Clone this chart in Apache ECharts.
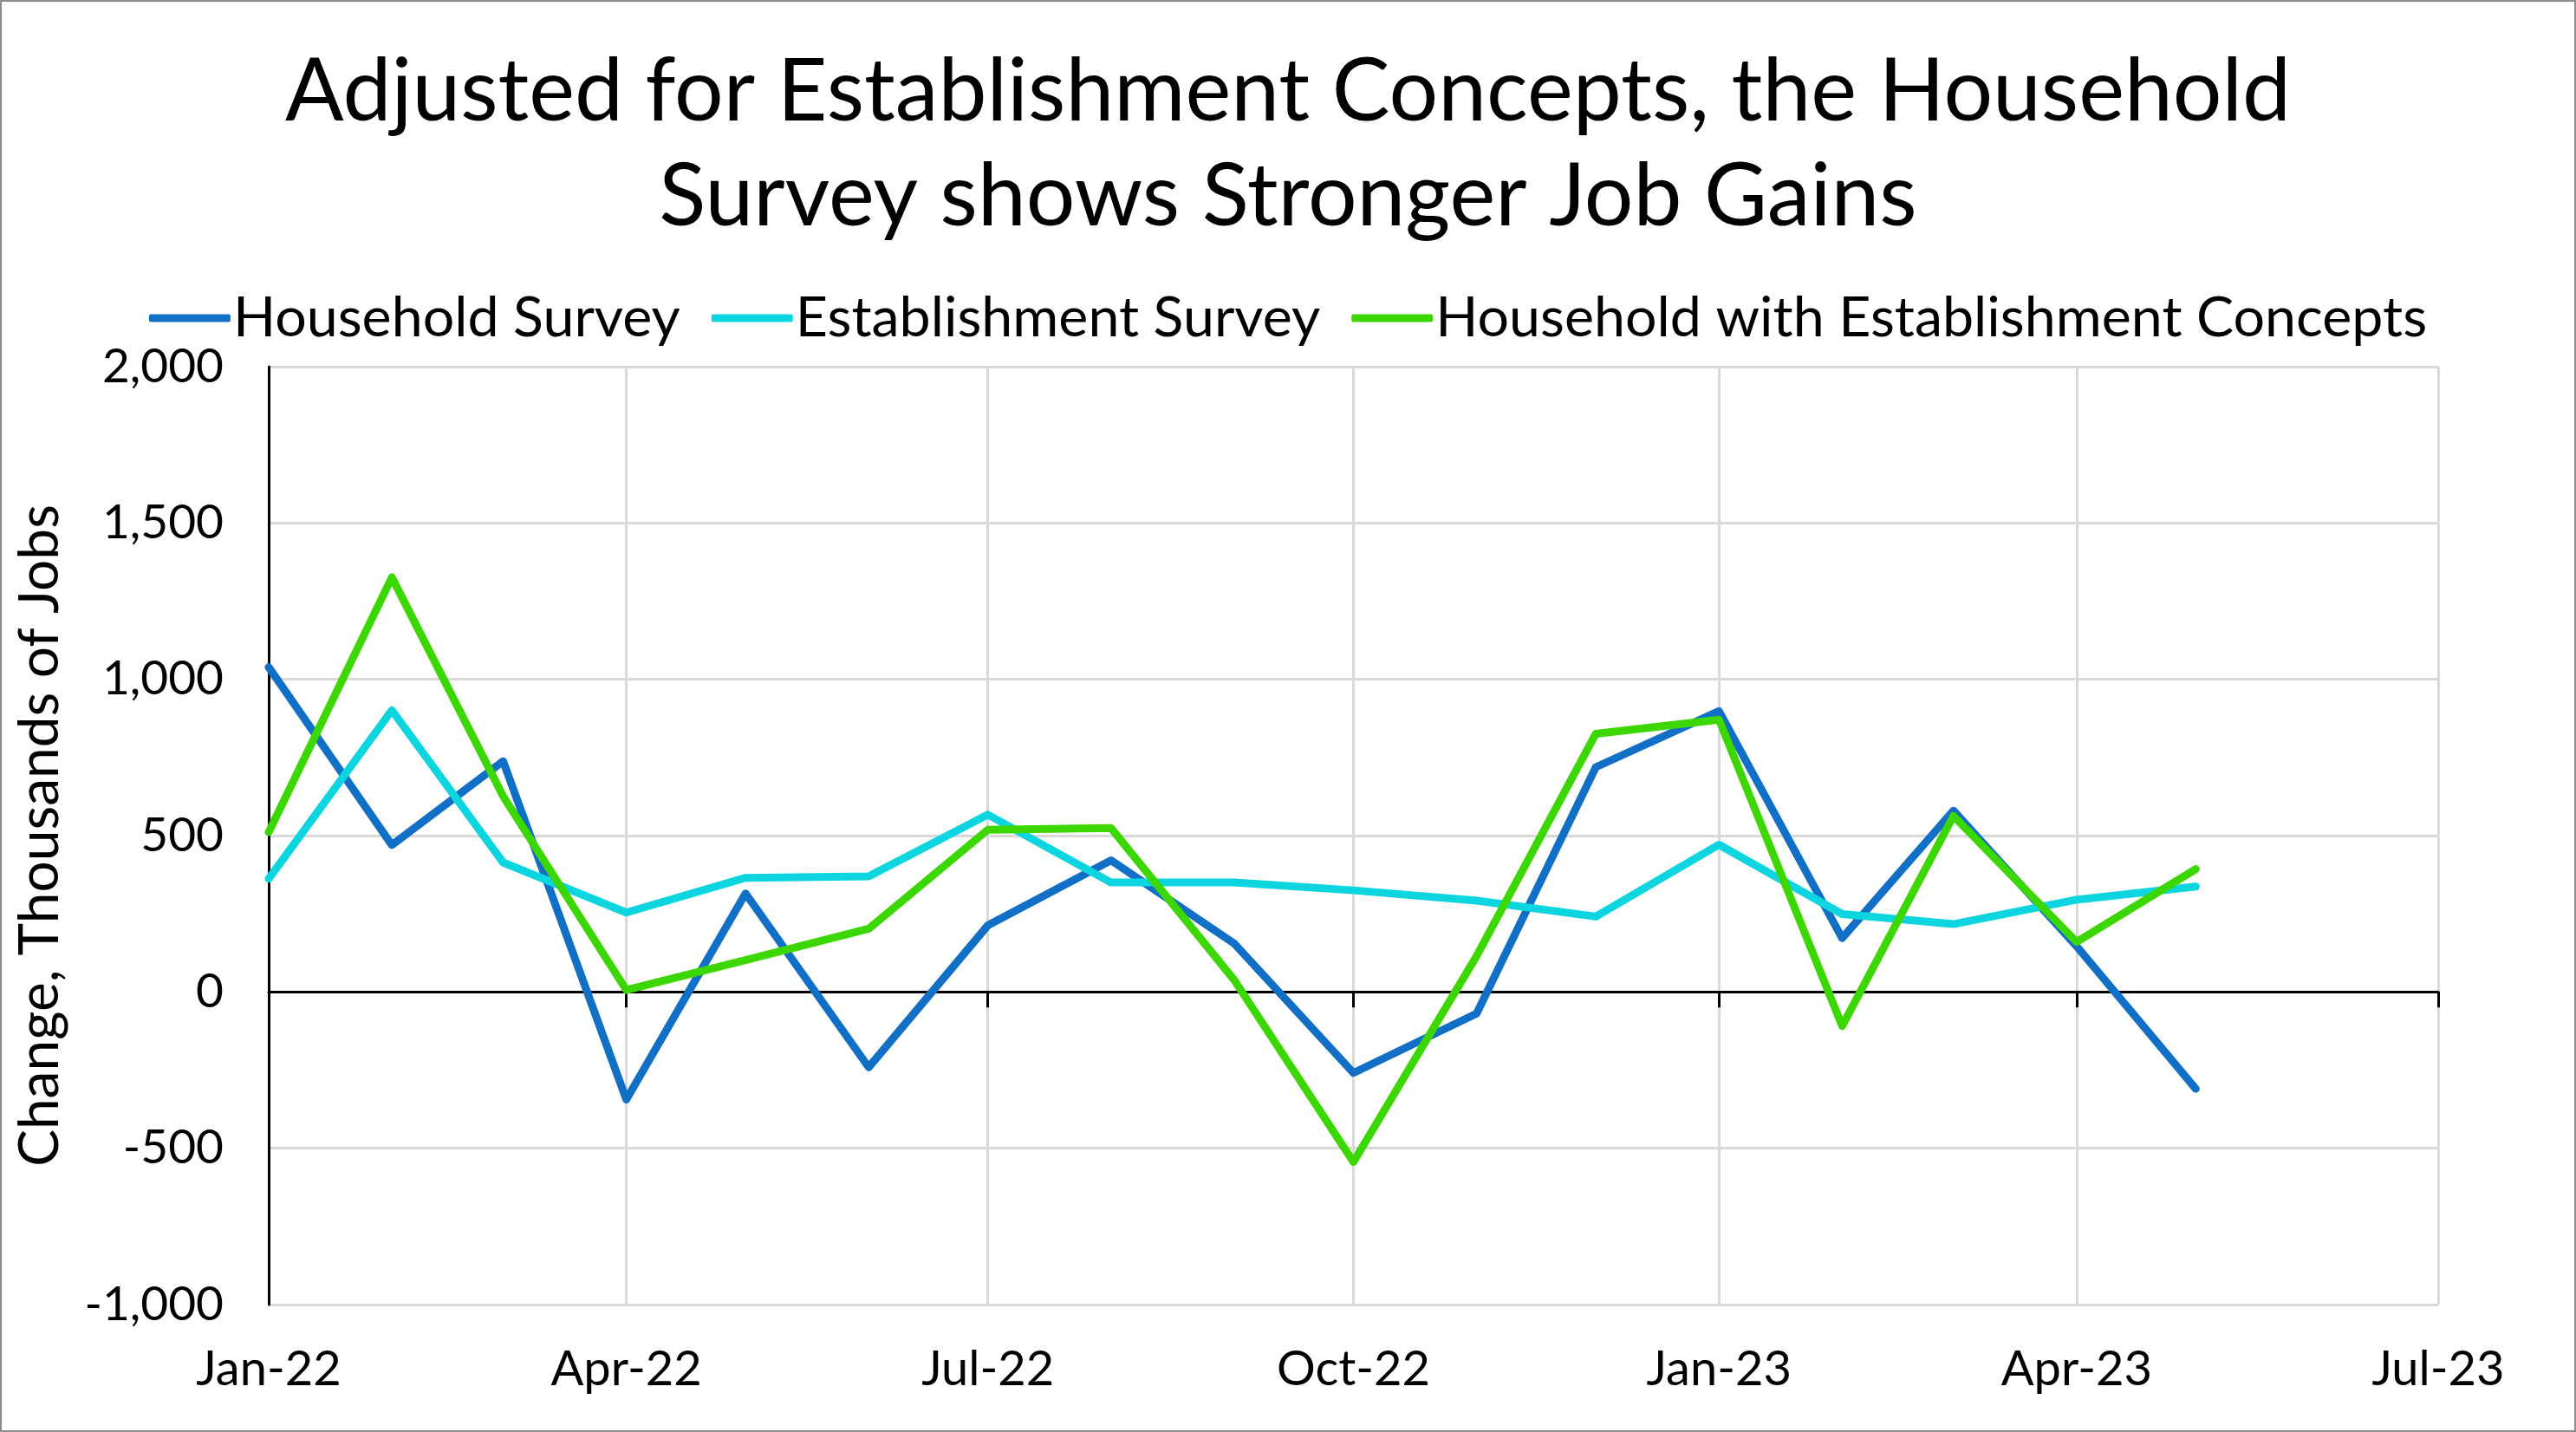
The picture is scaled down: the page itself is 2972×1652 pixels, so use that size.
<!DOCTYPE html>
<html>
<head>
<meta charset="utf-8">
<script src="https://cdn.jsdelivr.net/npm/echarts@6/dist/echarts.min.js"></script>
<style>
html,body{margin:0;padding:0;background:#fff;}
#chart{width:2972px;height:1652px;box-sizing:border-box;border:2px solid #8c8c8c;}
</style>
</head>
<body>
<div id="chart"></div>
<script>
// ---- data ----
const months = ['2022-01','2022-02','2022-03','2022-04','2022-05','2022-06','2022-07','2022-08','2022-09','2022-10','2022-11','2022-12','2023-01','2023-02','2023-03','2023-04','2023-05'];
const householdSurvey = [1039, 470, 738, -344, 315, -241, 213, 421, 155, -259, -69, 719, 898, 172, 580, 146, -310];
const establishmentSurvey = [362, 901, 414, 254, 365, 370, 567, 350, 350, 325, 292, 241, 471, 249, 217, 295, 337];
const householdEstConcepts = [511, 1326, 626, 6, 102, 202, 519, 524, 38, -544, 115, 826, 871, -109, 563, 160, 393];
const seriesNames = ['Household Survey', 'Establishment Survey', 'Household with Establishment Concepts'];
const seriesColors = ['#1170C6', '#0DD5DF', '#3CD600'];
const yTicks = [-1000, -500, 0, 500, 1000, 1500, 2000];
const monthAbbr = ['Jan','Feb','Mar','Apr','May','Jun','Jul','Aug','Sep','Oct','Nov','Dec'];
const xMin = '2022-01';
const xMax = '2023-07';

function toDate(s) { const p = s.split('-'); return new Date(+p[0], +p[1] - 1, 1).getTime(); }
function pairs(vals) { return months.map((m, i) => [toDate(m), vals[i]]); }
function fmtX(v) { const d = new Date(v); return monthAbbr[d.getMonth()] + '-' + String(d.getFullYear()).slice(2); }

const FONT = 'Lato';
const chart = echarts.init(document.getElementById('chart'), null, {renderer: 'canvas'});
const baseX = {
  type: 'time',
  min: toDate(xMin),
  max: toDate(xMax),
  splitNumber: 5
};
chart.setOption({
  backgroundColor: '#fff',
  animation: false,
  title: {
    text: 'Adjusted for Establishment Concepts, the Household\nSurvey shows Stronger Job Gains',
    left: 'center',
    top: 39,
    textStyle: {fontFamily: FONT, fontSize: 100, fontWeight: 'normal', color: '#000', lineHeight: 121, align: 'center'}
  },
  legend: {
    top: 324,
    left: 'center',
    itemWidth: 94,
    itemHeight: 9,
    itemGap: 36,
    icon: 'roundRect',
    textStyle: {fontFamily: FONT, fontSize: 64.5, color: '#000', lineHeight: 72, padding: [0, 0, 0, -2]},
    data: seriesNames
  },
  grid: {left: 308, right: 157, top: 421, bottom: 145, containLabel: false, outerBoundsMode: 'none'},
  xAxis: [
    Object.assign({}, baseX, {
      position: 'bottom',
      axisLine: {show: false, onZero: false},
      axisTick: {show: false},
      axisLabel: {fontFamily: FONT, fontSize: 56, color: '#000', margin: 47, formatter: fmtX, hideOverlap: false},
      splitLine: {show: true, lineStyle: {color: '#D9D9D9', width: 3}}
    }),
    Object.assign({}, baseX, {
      position: 'bottom',
      axisLine: {show: true, onZero: true, lineStyle: {color: '#000', width: 3}},
      axisTick: {show: true, length: 18, lineStyle: {color: '#000', width: 3}},
      axisLabel: {show: false},
      splitLine: {show: false}
    })
  ],
  yAxis: {
    type: 'value',
    min: yTicks[0],
    max: yTicks[yTicks.length - 1],
    interval: 500,
    name: 'Change, Thousands of Jobs',
    nameLocation: 'middle',
    nameRotate: 90,
    nameGap: 232,
    nameTextStyle: {fontFamily: FONT, fontSize: 64, color: '#000'},
    axisLine: {show: true, onZero: false, lineStyle: {color: '#000', width: 3}},
    axisTick: {show: false},
    axisLabel: {fontFamily: FONT, fontSize: 55, color: '#000', margin: 52,
      formatter: v => v.toLocaleString('en-US')},
    splitLine: {show: true, lineStyle: {color: '#D9D9D9', width: 3}}
  },
  series: [householdSurvey, establishmentSurvey, householdEstConcepts].map((vals, i) => ({
    name: seriesNames[i],
    type: 'line',
    xAxisIndex: 0,
    data: pairs(vals),
    symbol: 'none',
    smooth: false,
    lineStyle: {color: seriesColors[i], width: 9, cap: 'round', join: 'round'},
    itemStyle: {color: seriesColors[i]},
    z: 3 + i
  }))
});
</script>
</body>
</html>
